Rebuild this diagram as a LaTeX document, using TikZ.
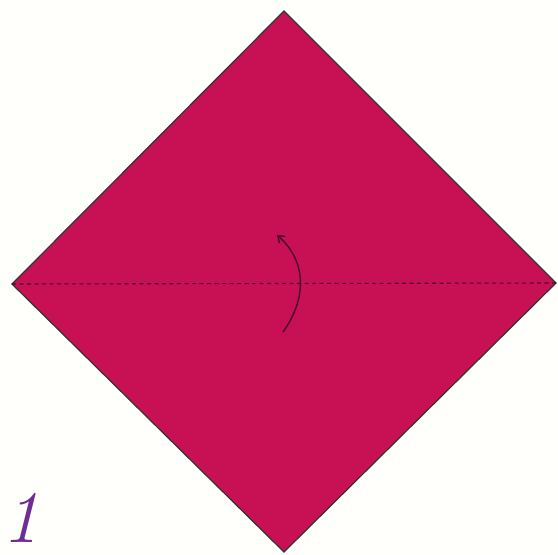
\documentclass[tikz,border=0pt]{standalone}
\usetikzlibrary{arrows.meta}
\definecolor{paper}{RGB}{200,16,84}
\definecolor{fold}{RGB}{70,10,45}
\definecolor{steppurple}{RGB}{112,44,150}
\begin{document}
\begin{tikzpicture}[x=1pt,y=-1pt,
    sheet/.style={fill=paper,draw=black!80,line width=1.2pt,line join=miter},
    valley/.style={draw=fold,line width=1.1pt,dash pattern=on 4pt off 3.5pt},
    turn/.style={draw=fold,line width=1.4pt,-{Straight Barb[length=6pt,width=9pt]}},
    every node/.style={inner sep=0pt}]
  \useasboundingbox[fill=white!99!yellow] (0,0) rectangle (558,555);
  % ---- the square, turned on its corner ----
  \coordinate (top) at (284,11);
  \coordinate (lft) at (12,284);
  \coordinate (rgt) at (556,283);
  \coordinate (bot) at (284,552);
  \draw[sheet] (top)--(rgt)--(bot)--(lft)--cycle;
  % ---- fold line and direction ----
  \draw[valley] (lft)--(rgt);
  \coordinate (from) at (283,332);
  \coordinate (to) at (277,235);
  \draw[turn] (from) .. controls (306,300) and (308,262) .. (to);
  % ---- step number ----
  \node[text=steppurple,font=\fontsize{74}{74}\selectfont\itshape,anchor=base west] (num) at (2,542) {1};
\end{tikzpicture}
\end{document}
